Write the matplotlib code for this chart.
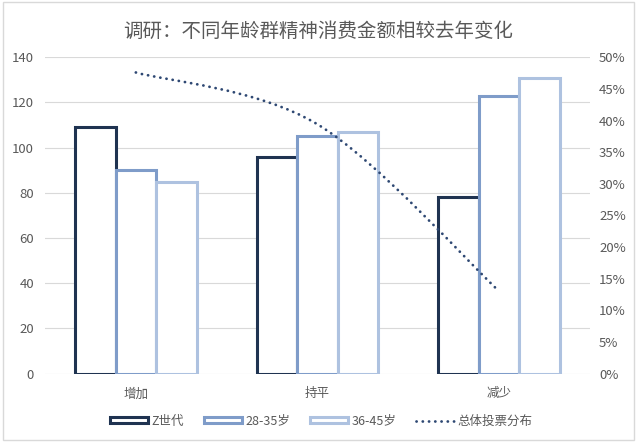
import matplotlib
matplotlib.use("Agg")
import matplotlib.pyplot as plt
from matplotlib.patches import Rectangle, PathPatch, Patch
from matplotlib.lines import Line2D
from matplotlib.path import Path
from matplotlib.ticker import PercentFormatter
import numpy as np

plt.rcParams['font.family'] = ['Noto Sans CJK SC', 'DejaVu Sans']

# data
categories = ["增加", "持平", "减少"]
series_names = ["Z世代", "28-35岁", "36-45岁"]
z_gen = [109, 96, 78]
age_28_35 = [90, 105, 123]
age_36_45 = [85, 107, 131]
total_share = [47.6, 39.4, 13.0]   # 总体投票分布, %
line_name = "总体投票分布"

bar_colors = ["#1f3351", "#7f9cc9", "#aec2e0"]
line_color = "#2e4873"
text_color = "#595959"
grid_color = "#d9d9d9"

fig = plt.figure(figsize=(6.4, 4.44), dpi=100)
ax = fig.add_axes([45/640, 1-373.5/444, 545/640, 316.2/444])
ax2 = ax.twinx()

x = np.arange(len(categories))
w = 0.2235
for i, (vals, col) in enumerate(zip([z_gen, age_28_35, age_36_45], bar_colors)):
    ax.bar(x + (i-1)*w, vals, width=w, facecolor="white", edgecolor=col,
           linewidth=2.2, zorder=3)

ax.set_xlim(-0.5, 2.5)
ax.set_ylim(0, 140)
ax.set_yticks(range(0, 141, 20))
ax.set_xticks(x)
ax.set_xticklabels(categories)
ax.grid(axis='y', color=grid_color, linewidth=0.8, zorder=0)
ax.set_axisbelow(True)
for s in ax.spines.values():
    s.set_visible(False)
ax.tick_params(axis='x', length=0, pad=10, labelsize=9, colors=text_color)
ax.tick_params(axis='y', length=0, pad=8, labelsize=9.5, colors=text_color)

# smoothed line like the office chart (bezier through the points)
ax2.set_ylim(0, 50)
ax2.set_yticks(range(0, 51, 5))
ax2.yaxis.set_major_formatter(PercentFormatter(decimals=0))
for s in ax2.spines.values():
    s.set_visible(False)
ax2.tick_params(axis='y', length=0, pad=6.5, labelsize=9.5, colors=text_color)

pts = np.column_stack([x, total_share]).astype(float)
ext = np.vstack([pts[0], pts, pts[-1]])
verts = [tuple(pts[0])]
codes = [Path.MOVETO]
for k in range(len(pts) - 1):
    p0, p1, p2, p3 = ext[k], ext[k+1], ext[k+2], ext[k+3]
    c1 = p1 + (p2 - p0) / 6
    c2 = p2 - (p3 - p1) / 6
    verts += [tuple(c1), tuple(c2), tuple(p2)]
    codes += [Path.CURVE4] * 3
curve = PathPatch(Path(verts, codes), fill=False, edgecolor=line_color,
                  linewidth=2.0, linestyle=(0, (0.05, 2.2)), capstyle='round',
                  zorder=4)
ax2.add_patch(curve)

title = "调研：不同年龄群精神消费金额相较去年变化"
fig.text(318.5/640, 1-31/444, title, ha='center', va='center',
         fontsize=14, color=text_color, fontweight='medium')

handles = [Patch(facecolor="white", edgecolor=c, linewidth=2.2) for c in bar_colors]
handles.append(Line2D([], [], color=line_color, linewidth=2.0,
                      linestyle=(0, (0.05, 2.2)), dash_capstyle='round'))
leg = fig.legend(handles, series_names + [line_name], loc='center',
                 bbox_to_anchor=(321.5/640, 1-421/444), ncol=4, frameon=False,
                 fontsize=9, handlelength=3.0, handleheight=0.45,
                 handletextpad=0.3, columnspacing=1.6)
for t in leg.get_texts():
    t.set_color(text_color)

fig.patches.append(Rectangle((2.5/640, 1-440/444), 631.5/640, 438/444,
                             transform=fig.transFigure, fill=False,
                             edgecolor=grid_color, linewidth=1.0))

fig.savefig("out.png", dpi=100)
